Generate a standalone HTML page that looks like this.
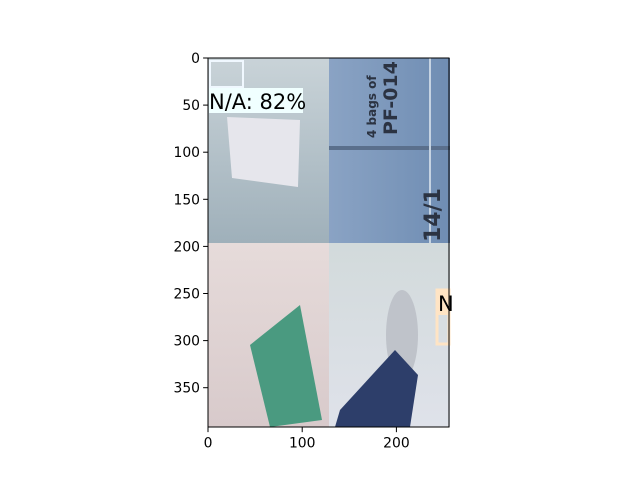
<!DOCTYPE html>
<html><head><meta charset="utf-8"><style>
body{margin:0;background:#fff}
svg text{font-family:"DejaVu Sans","Liberation Sans",sans-serif}
</style></head><body>
<svg id="c" width="640" height="480" xmlns="http://www.w3.org/2000/svg">
<defs>
<linearGradient id="g1" x1="0" y1="0" x2="0" y2="1"><stop offset="0" stop-color="#c9d3d8"/><stop offset="1" stop-color="#9fb0ba"/></linearGradient>
<linearGradient id="g2" x1="0" y1="0" x2="1" y2="0"><stop offset="0" stop-color="#8aa3c4"/><stop offset="1" stop-color="#6f8db3"/></linearGradient>
<linearGradient id="g3" x1="0" y1="0" x2="0" y2="1"><stop offset="0" stop-color="#e6dbda"/><stop offset="1" stop-color="#d8cacb"/></linearGradient>
<linearGradient id="g4" x1="0" y1="0" x2="0" y2="1"><stop offset="0" stop-color="#d2dadb"/><stop offset="1" stop-color="#dfe2ea"/></linearGradient>
</defs>
<g id="img">
<rect x="208" y="58" width="121" height="185" fill="url(#g1)"/>
<polygon points="227,117 300,120 298,187 232,178" fill="#e6e6ec"/>
<rect x="329" y="58" width="121" height="185" fill="url(#g2)"/>
<rect x="329" y="146" width="121" height="4" fill="#5a6f8c"/>
<rect x="429" y="58" width="2" height="185" fill="#c5d3e2"/>
<text transform="translate(376,138) rotate(-90)" font-size="12" font-weight="bold" fill="#2b3342">4 bags of</text>
<text transform="translate(397,135) rotate(-90)" font-size="19" font-weight="bold" fill="#2b3342">PF-014</text>
<text transform="translate(440,242) rotate(-90)" font-size="22" font-weight="bold" fill="#2b3342">14/1</text>
<rect x="208" y="243" width="121" height="184" fill="url(#g3)"/>
<polygon points="250,345 300,305 322,420 270,427" fill="#4a9a80"/>
<rect x="329" y="243" width="121" height="184" fill="url(#g4)"/>
<ellipse cx="402" cy="335" rx="16" ry="45" fill="#bfc3ca"/>
<polygon points="340,410 395,350 418,375 410,427 335,427" fill="#2d3e6a"/>
<rect x="210" y="61" width="33" height="26" fill="none" stroke="#f0f8ff" stroke-width="2"/>
<rect x="209" y="88" width="94" height="25" fill="#f0ffff"/>
<text x="209" y="109" font-size="21" fill="#000">N/A: 82%</text>
<rect x="437" y="290" width="12" height="54" fill="none" stroke="#ffe4c4" stroke-width="3"/>
<rect x="437" y="290" width="12" height="25" fill="#ffe4c4"/>
<text x="438" y="311" font-size="21" fill="#000">N</text>
</g>
<rect x="208" y="58" width="241" height="369" fill="none" stroke="#000" stroke-width="1"/>
<g id="xt"></g>
<g id="yt"></g>
</svg>
<script>
const xTicks=[0,100,200];
const yTicks=[0,50,100,150,200,250,300,350];
const imgW=256, imgH=392;
const x0=208, y0=58, scale=0.942;
const xs=v=>x0+v*scale, ys=v=>y0+v*scale;
const NS="http://www.w3.org/2000/svg";
const xt=document.getElementById('xt'), yt=document.getElementById('yt');
const yb=y0+imgH*scale;
xTicks.forEach(t=>{
 const l=document.createElementNS(NS,'line');
 
 
 l.setAttribute('x1',xs(t));l.setAttribute('x2',xs(t));l.setAttribute('y1',yb);l.setAttribute('y2',yb+4.9);l.setAttribute('stroke','#000');
 xt.appendChild(l);
 const s=document.createElementNS(NS,'text');
 
 
 s.setAttribute('x',xs(t));s.setAttribute('y',yb+20);s.setAttribute('text-anchor','middle');s.setAttribute('font-size','13.9');
 s.textContent=t;xt.appendChild(s);
});
yTicks.forEach(t=>{
 const l=document.createElementNS(NS,'line');
 
 
 l.setAttribute('x1',x0-4.9);l.setAttribute('x2',x0);l.setAttribute('y1',ys(t));l.setAttribute('y2',ys(t));l.setAttribute('stroke','#000');
 yt.appendChild(l);
 const s=document.createElementNS(NS,'text');
 
 
 s.setAttribute('x',x0-8);s.setAttribute('y',ys(t)+5);s.setAttribute('text-anchor','end');s.setAttribute('font-size','13.9');
 s.textContent=t;yt.appendChild(s);
});
</script>
</body></html>
